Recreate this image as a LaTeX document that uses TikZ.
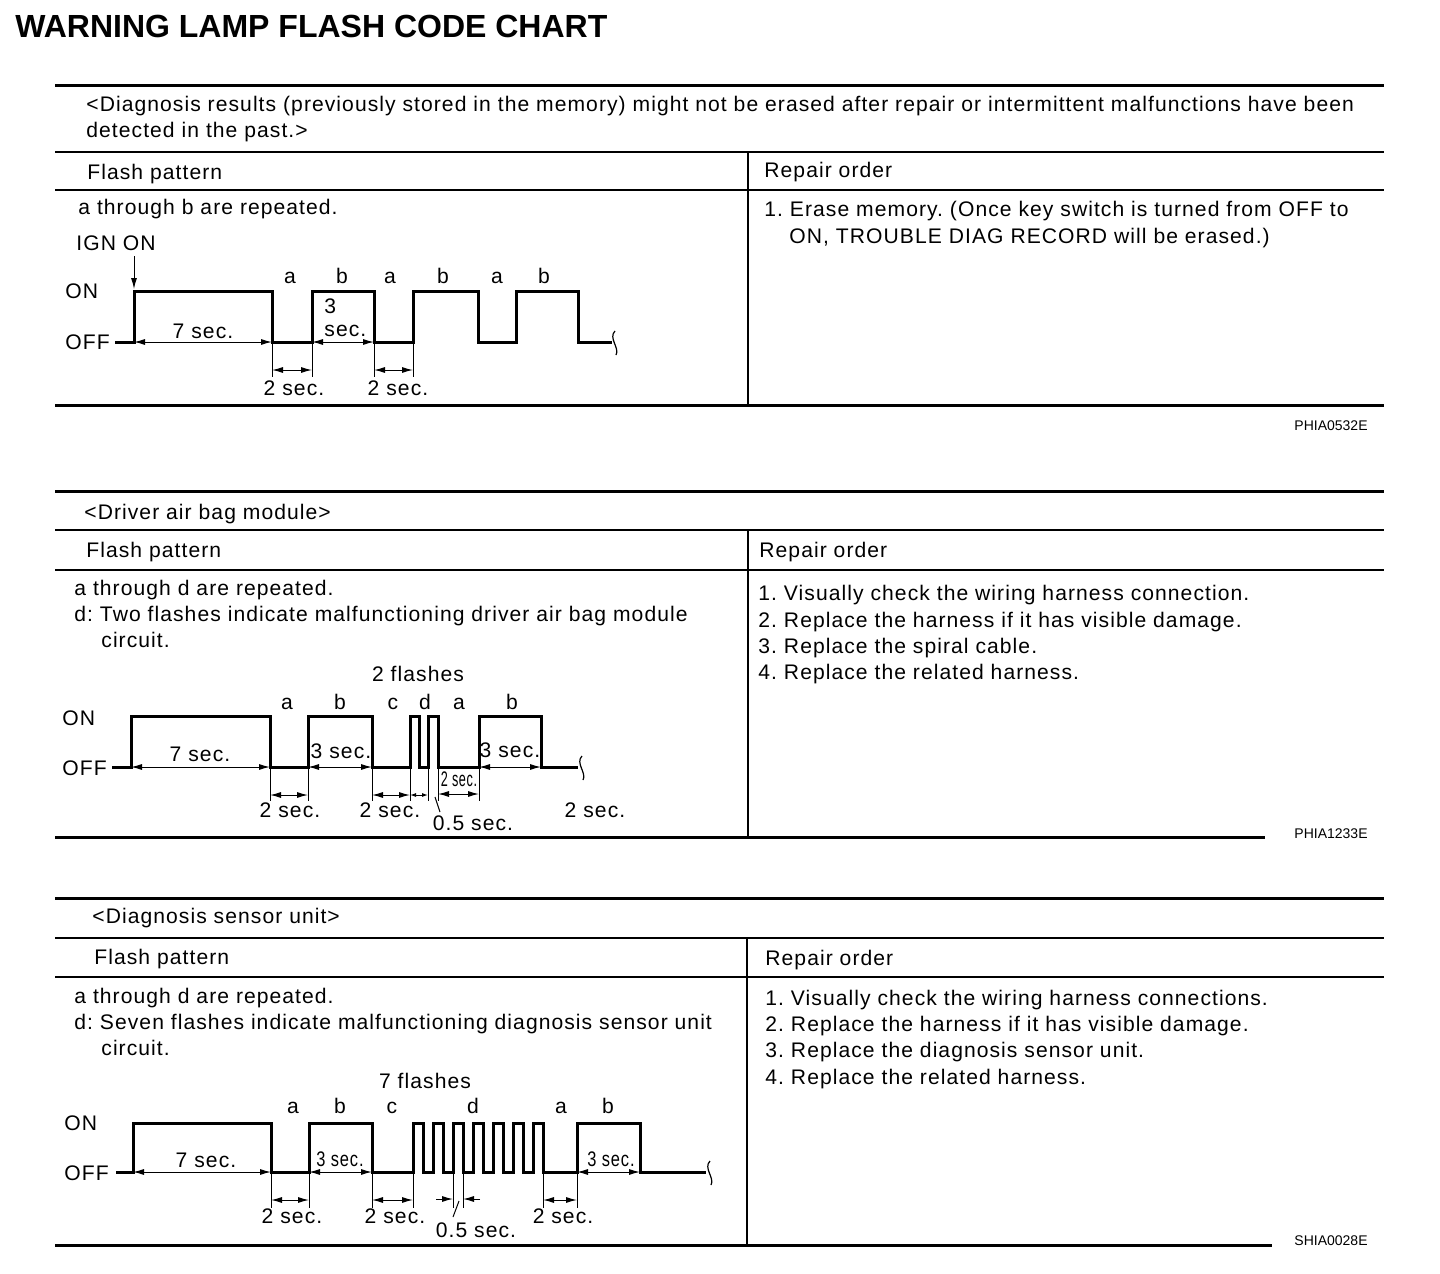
\documentclass[tikz,border=0pt]{standalone}
\usepackage{fontspec}
\setmainfont{Liberation Sans}
\newfontfamily\bodyfont{Liberation Sans}[LetterSpace=5]
\usetikzlibrary{arrows.meta}
\frenchspacing
\tikzset{>={Latex[length=5.5pt,width=3pt]}}
\tikzstyle{rule}=[line width=1.5pt]
\tikzstyle{midrule}=[line width=1.1pt]
\tikzstyle{thinrule}=[line width=0.7pt]
\tikzstyle{wave}=[line width=1.5pt,line join=miter]
\tikzstyle{dim}=[<->,line width=0.5pt]
\tikzstyle{ext}=[line width=0.5pt]
\tikzstyle{txt}=[anchor=base west,inner sep=0pt,font=\bodyfont\fontsize{10.55}{13}\selectfont]
\tikzstyle{lbl}=[anchor=base,inner sep=0pt,font=\bodyfont\fontsize{10.55}{13}\selectfont]
\tikzstyle{code}=[anchor=base east,inner sep=0pt,font=\fontsize{7}{8}\selectfont]

\begin{document}
\begin{tikzpicture}[x=0.5pt,y=-0.5pt]
  \useasboundingbox (0,0) rectangle (1440,1274);
  \node[anchor=base west,inner sep=0pt,font=\fontsize{16}{19}\selectfont\bfseries] (title) at (15,37) {WARNING LAMP FLASH CODE CHART};

  % ---- table 1: stored results
  \draw[rule] (55,85) -- (1384,85);
  \draw[midrule] (55,152) -- (1384,152);
  \draw[midrule] (55,190) -- (1384,190);
  \draw[thinrule] (748,152) -- (748,405);
  \draw[rule] (55,405) -- (1384,405);
  \node[txt] (hdrA1) at (86,111) {<Diagnosis results (previously stored in the memory) might not be erased after repair or intermittent malfunctions have been};
  \node[txt] (hdrA2) at (86,137) {detected in the past.>};
  \node[txt] (flashA) at (87,179) {Flash pattern};
  \node[txt] (orderA) at (764,177) {Repair order};
  \node[txt] (noteA) at (78,214) {a through b are repeated.};
  \node[txt] (stepA1) at (764,216) {1. Erase memory. (Once key switch is turned from OFF to};
  \node[txt] (stepA2) at (789,243) {ON, TROUBLE DIAG RECORD will be erased.)};
  \node[txt] (ign) at (76,250) {IGN ON};
  \draw[->,ext] (134,256) -- (134,289);
  \node[txt] (onA) at (65,298) {ON};
  \node[txt] (offA) at (65,349) {OFF};
  \foreach \x/\t [count=\i] in {290/a,342/b,390/a,443/b,497/a,544/b}
    \node[lbl] (labA\i) at (\x,283) {\t};
  \draw[wave] (115,342) -- (134,342) |- (272,291) |- (312,342) |- (374,291) |- (413,342)
    |- (478,291) |- (516,342) |- (578,291) |- (612,342);
  \draw[line width=0.6pt] (615,331) .. controls (608,338) and (620,348) .. (616,355);
  \draw[dim] (134,342) -- (272,342);
  \node[lbl] (sevenA) at (203,338) {7 sec.};
  \draw[dim] (312,342) -- (374,342);
  \node[txt,anchor=north west,align=left,font=\bodyfont\fontsize{10.55}{11.5}\selectfont] (threeA) at (324,298) {3\\sec.};
  \foreach \xa/\xb in {272/312,374/413}{
    \draw[ext] (\xa,342) -- (\xa,377);
    \draw[ext] (\xb,342) -- (\xb,377);
    \draw[dim] (\xa,370) -- (\xb,370);
  }
  \node[lbl] (twoA1) at (294,395) {2 sec.};
  \node[lbl] (twoA2) at (398,395) {2 sec.};
  \node[code] (codeA) at (1368,430) {PHIA0532E};

  % ---- table 2: driver air bag module
  \draw[rule] (55,491) -- (1384,491);
  \draw[thinrule] (55,530) -- (1384,530);
  \draw[midrule] (55,570) -- (1384,570);
  \draw[thinrule] (748,530) -- (748,837);
  \draw[rule] (55,837) -- (1265,837);
  \node[txt] (hdrB) at (84,519) {<Driver air bag module>};
  \node[txt] (flashB) at (86,557) {Flash pattern};
  \node[txt] (orderB) at (759,557) {Repair order};
  \node[txt] (noteB1) at (74,595) {a through d are repeated.};
  \node[txt] (noteB2) at (74,621) {d: Two flashes indicate malfunctioning driver air bag module};
  \node[txt] (noteB3) at (101,647) {circuit.};
  \node[txt] (stepB1) at (758,600) {1. Visually check the wiring harness connection.};
  \node[txt] (stepB2) at (758,627) {2. Replace the harness if it has visible damage.};
  \node[txt] (stepB3) at (758,653) {3. Replace the spiral cable.};
  \node[txt] (stepB4) at (758,679) {4. Replace the related harness.};
  \node[lbl] (flB) at (418,681) {2 flashes};
  \foreach \x/\t [count=\i] in {287/a,340/b,393/c,425/d,459/a,512/b}
    \node[lbl] (labB\i) at (\x,709) {\t};
  \node[txt] (onB) at (62,725) {ON};
  \node[txt] (offB) at (62,775) {OFF};
  \draw[wave] (112,767) -- (131,767) |- (270,716) |- (308,767) |- (372,716) |- (410,767)
    |- (419,716) |- (428,767) |- (438,716) |- (479,767) |- (541,716) |- (578,767);
  \draw[line width=0.6pt] (582,756) .. controls (575,763) and (587,773) .. (583,780);
  \draw[dim] (131,767) -- (270,767);
  \node[lbl] (sevenB) at (200,761) {7 sec.};
  \draw[dim] (308,767) -- (372,767);
  \node[lbl] (threeB1) at (341,758) {3 sec.};
  \draw[dim] (479,767) -- (541,767);
  \node[lbl] (threeB2) at (510,757) {3 sec.};
  \foreach \x in {270,308,372,410,428,438,479}
    \draw[ext] (\x,767) -- (\x,801);
  \draw[dim] (270,795) -- (308,795);
  \draw[dim] (372,795) -- (410,795);
  \draw[{Latex[length=3pt,width=2pt]}-{Latex[length=3pt,width=2pt]},line width=0.5pt] (410,795) -- (428,795);
  \draw[dim] (438,794) -- (479,794);
  \node[lbl] (twoB1) at (290,817) {2 sec.};
  \node[lbl] (twoB2) at (390,817) {2 sec.};
  \node[lbl] (twoB3) at (459,786) {\scalebox{0.6}[1]{2 sec.}};
  \draw[ext] (435,797) -- (440,812);
  \node[lbl] (halfB) at (473,830) {0.5 sec.};
  \node[lbl] (twoB4) at (595,817) {2 sec.};
  \node[code] (codeB) at (1368,838) {PHIA1233E};

  % ---- table 3: diagnosis sensor unit
  \draw[rule] (55,898) -- (1384,898);
  \draw[midrule] (55,938) -- (1384,938);
  \draw[midrule] (55,977) -- (1384,977);
  \draw[thinrule] (747,938) -- (747,1245);
  \draw[rule] (55,1245) -- (1272,1245);
  \node[txt] (hdrC) at (92,923) {<Diagnosis sensor unit>};
  \node[txt] (flashC) at (94,964) {Flash pattern};
  \node[txt] (orderC) at (765,965) {Repair order};
  \node[txt] (noteC1) at (74,1003) {a through d are repeated.};
  \node[txt] (noteC2) at (74,1029) {d: Seven flashes indicate malfunctioning diagnosis sensor unit};
  \node[txt] (noteC3) at (101,1055) {circuit.};
  \node[txt] (stepC1) at (765,1005) {1. Visually check the wiring harness connections.};
  \node[txt] (stepC2) at (765,1031) {2. Replace the harness if it has visible damage.};
  \node[txt] (stepC3) at (765,1057) {3. Replace the diagnosis sensor unit.};
  \node[txt] (stepC4) at (765,1084) {4. Replace the related harness.};
  \node[lbl] (flC) at (425,1088) {7 flashes};
  \foreach \x/\t [count=\i] in {293/a,340/b,392/c,473/d,561/a,608/b}
    \node[lbl] (labC\i) at (\x,1113) {\t};
  \node[txt] (onC) at (64,1130) {ON};
  \node[txt] (offC) at (64,1180) {OFF};
  \draw[wave] (116,1172) -- (133,1172) |- (271,1123) |- (309,1172) |- (372,1123) |- (413,1172)
    \foreach \k in {1,...,7}{ -- ++(0,-49) -- ++(10,0) -- ++(0,49) -- ++(10,0) }
    -- (577,1172) |- (640,1123) |- (706,1172);
  \draw[line width=0.6pt] (710,1161) .. controls (703,1168) and (715,1178) .. (711,1185);
  \draw[dim] (133,1172) -- (271,1172);
  \node[lbl] (sevenC) at (206,1167) {7 sec.};
  \draw[dim] (309,1172) -- (372,1172);
  \node[lbl] (threeC1) at (340,1166) {\scalebox{0.78}[1]{3 sec.}};
  \draw[dim] (577,1172) -- (640,1172);
  \node[lbl] (threeC2) at (611,1166) {\scalebox{0.78}[1]{3 sec.}};
  \foreach \xa/\xb in {271/309,372/413,543/577}{
    \draw[ext] (\xa,1172) -- (\xa,1208);
    \draw[ext] (\xb,1172) -- (\xb,1208);
    \draw[dim] (\xa,1200) -- (\xb,1200);
  }
  \node[lbl] (twoC1) at (292,1223) {2 sec.};
  \node[lbl] (twoC2) at (395,1223) {2 sec.};
  \node[lbl] (twoC3) at (563,1223) {2 sec.};
  \draw[ext] (453,1172) -- (453,1208);
  \draw[ext] (463,1172) -- (463,1208);
  \draw[->,ext] (436,1199) -- (453,1199);
  \draw[->,ext] (480,1199) -- (463,1199);
  \draw[ext] (459,1201) -- (453,1217);
  \node[lbl] (halfC) at (476,1237) {0.5 sec.};
  \node[code] (codeC) at (1368,1245) {SHIA0028E};
\end{tikzpicture}
\end{document}
